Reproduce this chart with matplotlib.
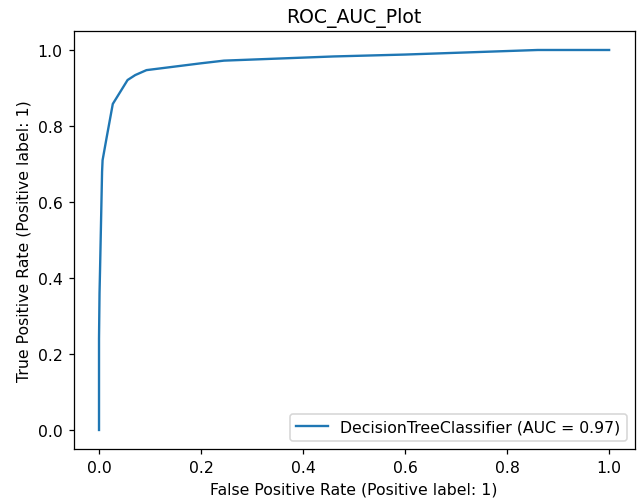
import matplotlib
matplotlib.use("Agg")
import matplotlib.pyplot as plt

# ROC points for the decision tree model
fpr = [0.0, 0.0, 0.001, 0.002, 0.004, 0.006, 0.007, 0.015, 0.027, 0.056,
       0.071, 0.093, 0.20, 0.245, 0.46, 0.60, 0.86, 1.0]
tpr = [0.0, 0.24, 0.36, 0.42, 0.55, 0.68, 0.71, 0.77, 0.858, 0.921,
       0.934, 0.947, 0.965, 0.972, 0.983, 0.988, 1.0, 1.0]
model_name = "DecisionTreeClassifier"
auc_score = 0.97

DPI = 113
fig = plt.figure(figsize=(642 / DPI, 503 / DPI), dpi=DPI)
ax = fig.add_axes([0.1145, 0.1054, 0.874, 0.831])
ax.plot(fpr, tpr, label=f"{model_name} (AUC = {auc_score:.2f})")
ax.set_xlabel("False Positive Rate (Positive label: 1)")
ax.set_ylabel("True Positive Rate (Positive label: 1)")
ax.set_title("ROC_AUC_Plot")
ax.legend(loc="lower right")
fig.savefig("out.png", dpi=DPI)
